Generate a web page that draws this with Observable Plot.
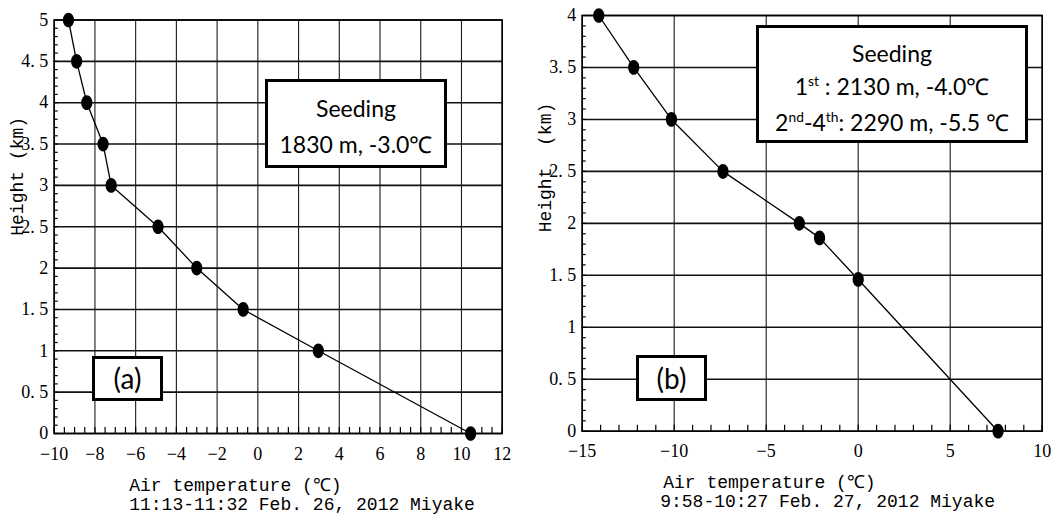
<!DOCTYPE html>
<html><head><meta charset="utf-8">
<script src="https://cdn.jsdelivr.net/npm/d3@7"></script>
<script src="https://cdn.jsdelivr.net/npm/@observablehq/plot@0.6"></script>
<style>
body{margin:0;background:#fff;}
#wrap{position:relative;width:1064px;height:521px;overflow:hidden;background:#fff;}
.panel{position:absolute;top:0;}
.box{position:absolute;border:3px solid #000;background:#fff;font-family:Lato,"Open Sans",sans-serif;color:#000;text-align:center;box-sizing:border-box;white-space:nowrap;}
.box sup{font-size:0.6em;vertical-align:baseline;position:relative;top:-0.65em;}
</style></head>
<body><div id="wrap"></div>
<script>
// ---- Panel (a) data ----
const tempA   = [10.45, 2.97, -0.72, -3.0, -4.9, -7.2, -7.6, -8.4, -8.9, -9.3];
const heightA = [0, 1, 1.5, 2, 2.5, 3, 3.5, 4, 4.5, 5];
const xTicksA = [-10, -8, -6, -4, -2, 0, 2, 4, 6, 8, 10, 12];
const xLabelsA = ["−10", "−8", "−6", "−4", "−2", "0", "2", "4", "6", "8", "10", "12"];
const yTicksA = [0, 0.5, 1, 1.5, 2, 2.5, 3, 3.5, 4, 4.5, 5];
const yLabelsA = ["0", "0. 5", "1", "1. 5", "2", "2. 5", "3", "3. 5", "4", "4. 5", "5"];
const xMinorA = d3.range(-10, 12.001, 0.5);
const yMinorA = d3.range(0, 50).map(i => i / 10);
const xTitleA = ["Air temperature (℃)", "11:13-11:32 Feb. 26, 2012 Miyake"];
const yTitleA = "Height (km)";

// ---- Panel (b) data ----
const tempB   = [7.6, 0.0, -2.1, -3.2, -7.35, -10.15, -12.2, -14.1];
const heightB = [0, 1.46, 1.86, 2.0, 2.5, 3.0, 3.5, 4.0];
const xTicksB = [-15, -10, -5, 0, 5, 10];
const xLabelsB = ["−15", "−10", "−5", "0", "5", "10"];
const yTicksB = [0, 0.5, 1, 1.5, 2, 2.5, 3, 3.5, 4];
const yLabelsB = ["0", "0. 5", "1", "1. 5", "2", "2. 5", "3", "3. 5", "4"];
const xMinorB = d3.range(-15, 10.001, 1);
const yMinorB = d3.range(0, 40).map(i => i / 10);
const xTitleB = ["Air temperature (℃)", "9:58-10:27 Feb. 27, 2012 Miyake"];
const yTitleB = "Height  (km)";

const ellipse = {draw(ctx, size) {
  const r = Math.sqrt(size / Math.PI), rx = r * 0.8, ry = r * 1.05, k = 0.5523;
  ctx.moveTo(rx, 0);
  ctx.bezierCurveTo(rx, ry * k, rx * k, ry, 0, ry);
  ctx.bezierCurveTo(-rx * k, ry, -rx, ry * k, -rx, 0);
  ctx.bezierCurveTo(-rx, -ry * k, -rx * k, -ry, 0, -ry);
  ctx.bezierCurveTo(rx * k, -ry, rx, -ry * k, rx, 0);
  ctx.closePath();
}};

function panel(c) {
  const data = c.temp.map((t, i) => ({t, h: c.height[i]}));
  const serif = "'Liberation Serif', 'DejaVu Serif', serif";
  const mono = "'Liberation Mono', 'DejaVu Sans Mono', monospace";
  const x0 = c.xDomain[0], y0 = c.yDomain[0];
  return Plot.plot({
    width: c.width, height: 521,
    marginLeft: c.ml, marginRight: c.mr, marginTop: c.mt, marginBottom: c.mb,
    x: {domain: c.xDomain, axis: null},
    y: {domain: c.yDomain, axis: null},
    style: {background: "transparent", overflow: "visible", fontFamily: serif, fontSize: "18px", color: "#000"},
    marks: [
      Plot.ruleX(c.xTicks, {x: d => d, stroke: "#1a1a1a", strokeWidth: 1.1}),
      Plot.ruleY(c.yTicks, {y: d => d, stroke: "#111", strokeWidth: 1.6}),
      // minor ticks pointing inward
      Plot.ruleX(c.xMinor, {x: d => d, y1: () => y0, y2: () => y0, insetTop: 0, insetBottom: 6, stroke: "#000", strokeWidth: 1.2}),
      Plot.ruleY(c.yMinor, {y: d => d, x1: () => x0, x2: () => x0, insetLeft: 0, insetRight: -4, stroke: "#000", strokeWidth: 1.2}),
      // tick labels
      Plot.text(c.xTicks, {x: d => d, frameAnchor: "bottom", dy: 26, text: (d, i) => c.xLabels[i],
        fontFamily: serif, fontSize: 18, fill: "#000"}),
      Plot.text(c.yTicks, {y: d => d, frameAnchor: "left", textAnchor: "end", dx: -6, text: (d, i) => c.yLabels[i],
        fontFamily: serif, fontSize: 18, fill: "#000"}),
      Plot.frame({stroke: "#000", strokeWidth: 1.6}),
      Plot.line(data, {x: "t", y: "h", stroke: "#000", strokeWidth: 1.3}),
      Plot.dot(data, {x: "t", y: "h", r: 7, fill: "#000", stroke: null, symbol: ellipse}),
      Plot.text([c.xTitle[0]], {frameAnchor: "bottom-left", text: d => d, textAnchor: "start",
        dx: c.tdx, dy: 57, fontFamily: mono, fontSize: 18, fill: "#000"}),
      Plot.text([c.xTitle[1]], {frameAnchor: "bottom-left", text: d => d, textAnchor: "start",
        dx: c.tdx2, dy: 76, fontFamily: mono, fontSize: 18, fill: "#000"}),
      Plot.text([c.yTitle], {frameAnchor: "left", text: d => d, rotate: -90,
        dx: -37, dy: 9, fontFamily: mono, fontSize: 18, fill: "#000"})
    ]
  });
}

const wrap = document.getElementById("wrap");
const pa = panel({temp: tempA, height: heightA, xTicks: xTicksA, xLabels: xLabelsA, yTicks: yTicksA, yLabels: yLabelsA,
  xMinor: xMinorA, yMinor: yMinorA, xTitle: xTitleA, yTitle: yTitleA, xDomain: [-10, 12], yDomain: [0, 5],
  width: 530, ml: 53.7, mr: 28.3, mt: 19.5, mb: 88, tdx: 75, tdx2: 75});
pa.classList.add("panel"); pa.style.left = "0px";
wrap.appendChild(pa);
const pb = panel({temp: tempB, height: heightB, xTicks: xTicksB, xLabels: xLabelsB, yTicks: yTicksB, yLabels: yLabelsB,
  xMinor: xMinorB, yMinor: yMinorB, xTitle: xTitleB, yTitle: yTitleB, xDomain: [-15, 10], yDomain: [0, 4],
  width: 534, ml: 51.7, mr: 22.3, mt: 15, mb: 90.3, tdx: 81, tdx2: 78});
pb.classList.add("panel"); pb.style.left = "530px";
wrap.appendChild(pb);

function box(html, left, top, w, h, fs, lh, pt) {
  const d = document.createElement("div");
  d.className = "box";
  Object.assign(d.style, {left: left + "px", top: top + "px", width: w + "px", height: h + "px",
    fontSize: fs + "px", lineHeight: lh + "px", paddingTop: pt + "px"});
  d.innerHTML = html;
  wrap.appendChild(d);
}
box("Seeding<br>1830 m, -3.0℃", 265, 79, 182, 89, 23, 36, 8);
box("Seeding<br>1<sup>st</sup> : 2130 m, -4.0℃<br>2<sup>nd</sup>-4<sup>th</sup>: 2290 m, -5.5 ℃", 756, 25, 272, 118, 23, 32.5, 9);
box("(a)", 92, 356, 71, 45, 28, 39, 0);
box("(b)", 636, 355, 71, 46, 28, 40, 0);
</script>
</body></html>
